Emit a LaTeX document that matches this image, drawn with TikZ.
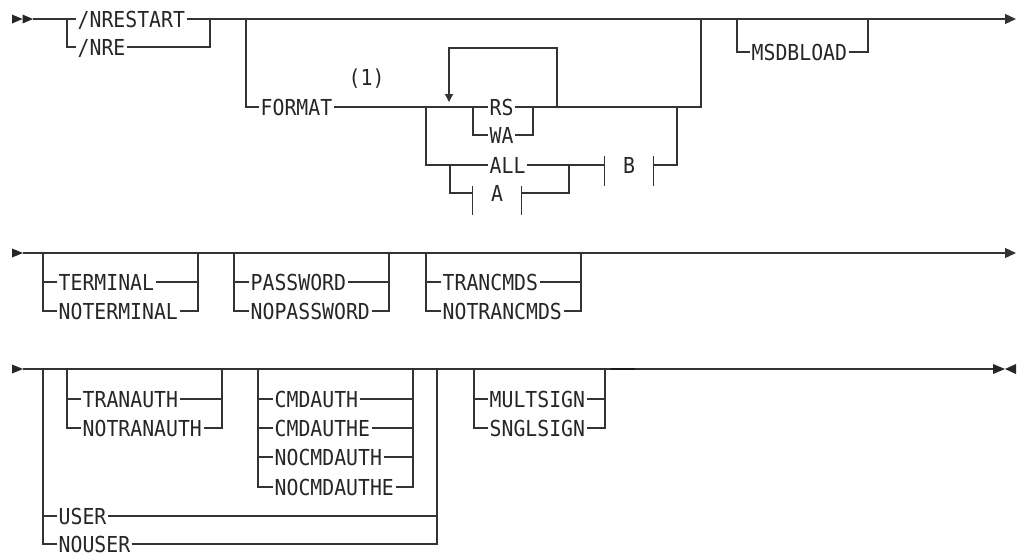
\documentclass[tikz,border=0pt]{standalone}
\usepackage{fontspec}
\newfontfamily\railfont[FakeStretch=0.9]{DejaVu Sans Mono}
\usetikzlibrary{arrows.meta,calc}

\begin{document}
\begin{tikzpicture}[x=1pt,y=-1pt,
		rail/.style={draw=black!80, line width=1.3pt},
		kw/.style={font=\railfont\fontsize{22}{26}\selectfont, text=black!85, anchor=west, inner xsep=1.5pt, inner ysep=0pt, text height=16pt, text depth=0pt},
		frag/.style={kw, anchor=center, minimum width=48pt},
		endtip/.style={-{Triangle[length=11pt,width=10pt]}}
		]
		\fill[white] (0,0) rectangle (1018,555);
		\useasboundingbox (0,0) rectangle (1018,555);

		% first line
		\coordinate (r1s) at (33,19);
		\coordinate (r1e) at (1016,19);
		\fill[black!85] (12,14.5) -- (22.5,19) -- (12,23.5) -- cycle;
		\fill[black!85] (22.5,14.5) -- (33,19) -- (22.5,23.5) -- cycle;
		\node[kw] (nrestart) at (76,19) {/NRESTART};
		\node[kw] (nre) at (76,47) {/NRE};
		\coordinate (nrl) at (67,19);
		\coordinate (nrr) at (210,19);
		\draw[rail] (r1s) -- (nrestart.west);
		\draw[rail, endtip] (nrestart.east) -- (r1e);
		\draw[rail] (nrl) |- (nre.west);
		\draw[rail] (nre.east) -| (nrr);

		\coordinate (fml) at (246,19);
		\coordinate (fmr) at (701,19);
		\node[kw] (format) at (259,107) {FORMAT};
		\node[kw] (note) at (347,77) {(1)};
		\node[kw] (rs) at (488,107) {RS};
		\node[kw] (wa) at (488,135) {WA};
		\node[kw] (all) at (488,165) {ALL};
		\node[frag] (a) at (497,193) {A};
		\node[frag] (b) at (629,165) {B};
		\draw[rail] (fml) |- (format.west);
		\draw[rail] (format.east) -- (rs.west);
		\draw[rail] (rs.east) -| (fmr);
		\coordinate (rwl) at (473,107);
		\coordinate (rwr) at (533,107);
		\draw[rail] (rwl) |- (wa.west);
		\draw[rail] (wa.east) -| (rwr);
		\coordinate (lpr) at (557,107);
		\coordinate (lpl) at (449,102);
		\draw[rail, -{Triangle[length=8pt,width=8pt]}] (lpr) -- ++(0,-59) -| (lpl);
		\coordinate (chl) at (426,107);
		\coordinate (chr) at (677,107);
		\draw[rail] (chl) |- (all.west);
		\draw[rail] (all.east) -- (b.west);
		\draw[rail] (b.east) -| (chr);
		\coordinate (al) at (450,165);
		\coordinate (ar) at (569,165);
		\draw[rail] (al) |- (a.west);
		\draw[rail] (a.east) -| (ar);
		\draw[rail] ([yshift=9pt]b.west) -- ([yshift=-21pt]b.west);
		\draw[rail] ([yshift=9pt]b.east) -- ([yshift=-21pt]b.east);
		\draw[rail] ([yshift=7pt]a.west) -- ([yshift=-22pt]a.west);
		\draw[rail] ([yshift=7pt]a.east) -- ([yshift=-22pt]a.east);

		\coordinate (msl) at (737,19);
		\coordinate (msr) at (868,19);
		\node[kw] (msdbload) at (750,52) {MSDBLOAD};
		\draw[rail] (msl) |- (msdbload.west);
		\draw[rail] (msdbload.east) -| (msr);

		% second line
		\coordinate (r2s) at (23,253);
		\coordinate (r2e) at (1016,253);
		\fill[black!85] (12,248.5) -- (23,253) -- (12,257.5) -- cycle;
		\draw[rail, endtip] (r2s) -- (r2e);

		\coordinate (tml) at (43,253);
		\coordinate (tmr) at (198,253);
		\node[kw] (terminal) at (57,282) {TERMINAL};
		\node[kw] (noterminal) at (57,311) {NOTERMINAL};
		\draw[rail] (tml) |- (noterminal.west);
		\draw[rail] (noterminal.east) -| (tmr);
		\draw[rail] (terminal.west) -- (terminal.west -| tml);
		\draw[rail] (terminal.east) -- (terminal.east -| tmr);

		\coordinate (pwl) at (234,253);
		\coordinate (pwr) at (389,253);
		\node[kw] (password) at (249,282) {PASSWORD};
		\node[kw] (nopassword) at (249,311) {NOPASSWORD};
		\draw[rail] (pwl) |- (nopassword.west);
		\draw[rail] (nopassword.east) -| (pwr);
		\draw[rail] (password.west) -- (password.west -| pwl);
		\draw[rail] (password.east) -- (password.east -| pwr);

		\coordinate (tcl) at (426,253);
		\coordinate (tcr) at (581,253);
		\node[kw] (trancmds) at (441,282) {TRANCMDS};
		\node[kw] (notrancmds) at (441,311) {NOTRANCMDS};
		\draw[rail] (tcl) |- (notrancmds.west);
		\draw[rail] (notrancmds.east) -| (tcr);
		\draw[rail] (trancmds.west) -- (trancmds.west -| tcl);
		\draw[rail] (trancmds.east) -- (trancmds.east -| tcr);

		% third line
		\coordinate (r3s) at (23,369);
		\coordinate (r3e) at (993,369);
		\fill[black!85] (12,364.5) -- (23,369) -- (12,373.5) -- cycle;
		\draw[rail] (r3s) -- (r3e);
		\fill[black!85] (993,364) -- (1005,369) -- (993,374) -- cycle;
		\fill[black!85] (1016,364) -- (1005,369) -- (1016,374) -- cycle;
		\coordinate (tk1) at (611,369);
		\coordinate (tk2) at (635,369);
		\draw[line width=2.4pt, black!90] (tk1) -- (tk2);

		\coordinate (usl) at (43,369);
		\coordinate (usr) at (437,369);
		\node[kw] (user) at (57,516) {USER};
		\node[kw] (nouser) at (57,544) {NOUSER};
		\draw[rail] (usl) |- (nouser.west);
		\draw[rail] (nouser.east) -| (usr);
		\draw[rail] (user.west) -- (user.west -| usl);
		\draw[rail] (user.east) -- (user.east -| usr);

		\coordinate (tal) at (67,369);
		\coordinate (tar) at (222,369);
		\node[kw] (tranauth) at (81,399) {TRANAUTH};
		\node[kw] (notranauth) at (81,428) {NOTRANAUTH};
		\draw[rail] (tal) |- (notranauth.west);
		\draw[rail] (notranauth.east) -| (tar);
		\draw[rail] (tranauth.west) -- (tranauth.west -| tal);
		\draw[rail] (tranauth.east) -- (tranauth.east -| tar);

		\coordinate (cal) at (258,369);
		\coordinate (car) at (413,369);
		\node[kw] (cmdauth) at (273,399) {CMDAUTH};
		\node[kw] (cmdauthe) at (273,428) {CMDAUTHE};
		\node[kw] (nocmdauth) at (273,457) {NOCMDAUTH};
		\node[kw] (nocmdauthe) at (273,487) {NOCMDAUTHE};
		\draw[rail] (cal) |- (nocmdauthe.west);
		\draw[rail] (nocmdauthe.east) -| (car);
		\draw[rail] (cmdauth.west) -- (cmdauth.west -| cal);
		\draw[rail] (cmdauth.east) -- (cmdauth.east -| car);
		\draw[rail] (cmdauthe.west) -- (cmdauthe.west -| cal);
		\draw[rail] (cmdauthe.east) -- (cmdauthe.east -| car);
		\draw[rail] (nocmdauth.west) -- (nocmdauth.west -| cal);
		\draw[rail] (nocmdauth.east) -- (nocmdauth.east -| car);

		\coordinate (msgl) at (474,369);
		\coordinate (msgr) at (605,369);
		\node[kw] (multsign) at (488,399) {MULTSIGN};
		\node[kw] (snglsign) at (488,428) {SNGLSIGN};
		\draw[rail] (msgl) |- (snglsign.west);
		\draw[rail] (snglsign.east) -| (msgr);
		\draw[rail] (multsign.west) -- (multsign.west -| msgl);
		\draw[rail] (multsign.east) -- (multsign.east -| msgr);
\end{tikzpicture}
\end{document}
